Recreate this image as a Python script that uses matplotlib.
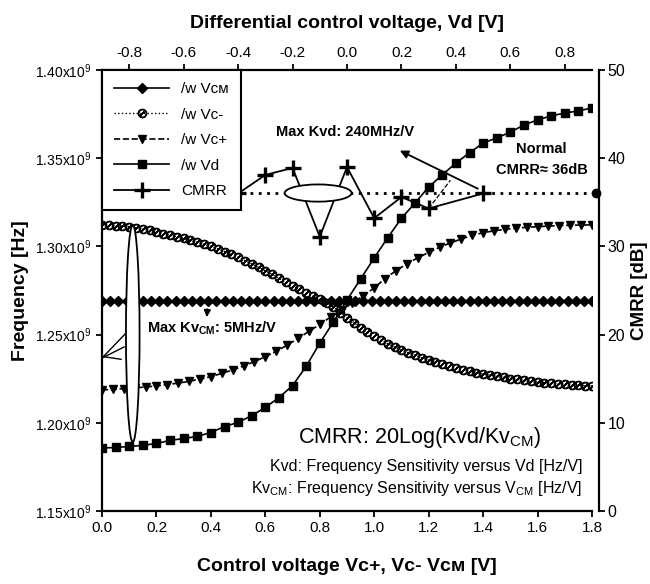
import numpy as np
import matplotlib
matplotlib.use("Agg")
import matplotlib.pyplot as plt
from matplotlib.patches import Ellipse
from matplotlib.ticker import FuncFormatter, MultipleLocator

# fuente angosta tipo Arial Narrow (si no existe, Liberation Sans)
FONT = ['Liberation Sans Narrow', 'Liberation Sans', 'DejaVu Sans']
plt.rcParams['font.family'] = FONT
plt.rcParams['mathtext.fontset'] = 'custom'
plt.rcParams['mathtext.rm'] = 'Liberation Sans'
plt.rcParams['mathtext.bf'] = 'Liberation Sans:bold'

# ---- datos (frecuencia en GHz, CMRR en dB) ----
# w/ VCM, paso 0.03 V
vcm_f = [1.2688, 1.2688, 1.2689, 1.2689, 1.2689, 1.2689, 1.2690, 1.2690, 1.2690, 1.2690,
         1.2690, 1.2690, 1.2691, 1.2691, 1.2691, 1.2691, 1.2691, 1.2691, 1.2691, 1.2691,
         1.2691, 1.2692, 1.2692, 1.2692, 1.2692, 1.2692, 1.2692, 1.2692, 1.2692, 1.2692,
         1.2692, 1.2692, 1.2692, 1.2692, 1.2692, 1.2692, 1.2692, 1.2692, 1.2692, 1.2692,
         1.2692, 1.2692, 1.2692, 1.2692, 1.2692, 1.2693, 1.2693, 1.2693, 1.2693, 1.2693,
         1.2693, 1.2693, 1.2693, 1.2693, 1.2693, 1.2693, 1.2693, 1.2693, 1.2693, 1.2693,
         1.2693]
# w/ Vc-, paso 0.025 V
vcn_f = [1.3121, 1.3120, 1.3118, 1.3115, 1.3112, 1.3106, 1.3099, 1.3091, 1.3082, 1.3073,
         1.3064, 1.3055, 1.3045, 1.3034, 1.3023, 1.3012, 1.3000, 1.2986, 1.2971, 1.2955,
         1.2938, 1.2919, 1.2901, 1.2882, 1.2862, 1.2841, 1.2819, 1.2797, 1.2775, 1.2756,
         1.2737, 1.2718, 1.2700, 1.2680, 1.2655, 1.2625, 1.2596, 1.2568, 1.2540, 1.2514,
         1.2490, 1.2468, 1.2448, 1.2430, 1.2413, 1.2397, 1.2382, 1.2368, 1.2355, 1.2343,
         1.2332, 1.2321, 1.2311, 1.2302, 1.2293, 1.2285, 1.2277, 1.2270, 1.2263, 1.2257,
         1.2251, 1.2246, 1.2241, 1.2236, 1.2232, 1.2228, 1.2224, 1.2221, 1.2218, 1.2215,
         1.2212, 1.2210, 1.2208]
# w/ Vc+, paso 0.04 V
vcp_f = [1.2186, 1.2190, 1.2194, 1.2198, 1.2203, 1.2209, 1.2217, 1.2225, 1.2235, 1.2248,
         1.2262, 1.2280, 1.2300, 1.2322, 1.2347, 1.2375, 1.2405, 1.2440, 1.2478, 1.2518,
         1.2558, 1.2600, 1.2640, 1.2680, 1.2720, 1.2765, 1.2818, 1.2862, 1.2902, 1.2935,
         1.2966, 1.2995, 1.3020, 1.3042, 1.3062, 1.3078, 1.3088, 1.3097, 1.3103, 1.3108,
         1.3112, 1.3115, 1.3118, 1.3120, 1.3121, 1.3122]
# w/ Vd, paso 0.05 V
vd_f = [1.1857, 1.1860, 1.1866, 1.1872, 1.1883, 1.1900, 1.1911, 1.1923, 1.1945, 1.1979,
        1.2002, 1.2041, 1.2087, 1.2143, 1.2211, 1.2320, 1.2452, 1.2571, 1.2696, 1.2815,
        1.2935, 1.3050, 1.3160, 1.3246, 1.3337, 1.3405, 1.3473, 1.3530, 1.3586, 1.3615,
        1.3648, 1.3688, 1.3717, 1.3740, 1.3756, 1.3768, 1.3785]
# CMRR
cmrr_x = [0.5, 0.6, 0.7, 0.8, 0.9, 1.0, 1.1, 1.2, 1.4]
cmrr_db = [36.0, 38.1, 38.9, 31.1, 39.0, 33.2, 35.6, 34.3, 36.0]
normal_x = [0.45, 1.8]
normal_db = [36.0, 36.0]

vcm_x = np.linspace(0, 1.8, len(vcm_f))
vcn_x = np.linspace(0, 1.8, len(vcn_f))
vcp_x = np.linspace(0, 1.8, len(vcp_f))
vd_x = np.linspace(0, 1.8, len(vd_f))

fig = plt.figure(figsize=(6.5, 5.84), dpi=100)
ax = fig.add_axes([102/650, 73/584, 490/650, 441/584])
axt = ax.twiny()
ax2 = ax.twinx()

lw = 1.6
l1, = ax.plot(vcm_x, vcm_f, '-', color='k', marker='D', ms=5, lw=1.2, label='/w Vᴄᴍ')
l2, = ax.plot(vcn_x, vcn_f, ':', color='k', marker=r'$\oslash$', ms=6, lw=1, label='/w Vc-')
l3, = ax.plot(vcp_x, vcp_f, '--', color='k', marker='v', ms=6, lw=1.2, label='/w Vc+')
l4, = ax.plot(vd_x, vd_f, '-', color='k', marker='s', ms=5.5, lw=1.2, label='/w Vd')

ax2.plot(normal_x, normal_db, color='k', ls=(0, (1, 2)), lw=2)
ax2.plot([1.815], [36.0], 'o', color='k', ms=6, clip_on=False)
l5, = ax2.plot(cmrr_x, cmrr_db, '-', color='k', marker='+', ms=11, mew=2.4, lw=1.3, label='CMRR')

# elipses
ax.add_patch(Ellipse((0.113, 1.2506), 0.05, 0.123, facecolor='white', edgecolor='k', lw=1.3, zorder=4))
ax2.add_patch(Ellipse((0.794, 36.05), 0.246, 1.95, facecolor='white', edgecolor='k', lw=1.3, zorder=4))

# flechas y lineas de referencia
ax2.annotate('', xy=(1.085, 41.0), xytext=(1.39, 36.4),
             arrowprops=dict(arrowstyle='-|>', color='k', lw=1.3, mutation_scale=12))
ax2.plot([1.2, 1.28], [34.3, 37.5], color='k', lw=0.9, ls='--')
ax.annotate('', xy=(0.384, 1.2583), xytext=(0.388, 1.2660),
            arrowprops=dict(arrowstyle='-|>', color='k', lw=1.2, mutation_scale=10))
ax.plot([0.092, 0.0], [1.2515, 1.2367], color='k', lw=1)
ax.plot([0.081, 0.0], [1.2430, 1.2367], color='k', lw=1)
ax.plot([0.070, 0.005], [1.2360, 1.2375], color='k', lw=1)

# ejes
ax.set_xlim(0, 1.8)
ax.set_ylim(1.15, 1.40)
ax2.set_ylim(0, 50)
axt.set_xlim(-0.9, 0.9)
ax.xaxis.set_major_locator(MultipleLocator(0.2))
axt.xaxis.set_major_locator(MultipleLocator(0.2))
ax.yaxis.set_major_locator(MultipleLocator(0.05))
ax2.yaxis.set_major_locator(MultipleLocator(10))
ax.xaxis.set_major_formatter(FuncFormatter(lambda v, p: f"{v:.1f}"))
axt.xaxis.set_major_formatter(FuncFormatter(lambda v, p: f"{v:.1f}"))
ax.yaxis.set_major_formatter(FuncFormatter(lambda v, p: f"{v:.2f}x10$^9$"))

for a in (ax, axt, ax2):
    for s in a.spines.values():
        s.set_visible(False)
        s.set_linewidth(lw)
ax.spines['left'].set_visible(True)
ax.spines['bottom'].set_visible(True)
axt.spines['top'].set_visible(True)
ax2.spines['right'].set_visible(True)
ax2.spines['right'].set_position(('outward', 5))

ax.tick_params(axis='both', direction='out', length=4, width=1.3, labelsize=11)
axt.tick_params(axis='x', direction='out', length=4, width=1.3, labelsize=11)
ax2.tick_params(axis='y', direction='out', length=4, width=1.3, labelsize=11.5, pad=2)
ax.tick_params(axis='y', labelsize=10)

ax.set_xlabel('Control voltage Vc+, Vc- Vᴄᴍ [V]', fontsize=14, fontweight='bold', labelpad=16)
axt.set_xlabel('Differential control voltage, Vd [V]', fontsize=14, fontweight='bold', labelpad=13)
ax.set_ylabel('Frequency [Hz]', fontsize=14, fontweight='bold', labelpad=4)
ax2.set_ylabel('CMRR [dB]', fontsize=13.5, fontweight='bold', labelpad=4)

# textos
def ftxt(x, y, s, **kw):
    fig.text(x/650, 1 - y/584, s, **kw)

ftxt(345, 132, 'Max Kvd: 240MHz/V', ha='center', va='center', fontsize=10.5, fontweight='bold')
ftxt(541, 149, 'Normal', ha='center', va='center', fontsize=10.5, fontweight='bold')
ftxt(542, 170, 'CMRR≈ 36dB', ha='center', va='center', fontsize=10.5, fontweight='bold')
ftxt(212, 328, r'Max Kv$_{\mathbf{CM}}$: 5MHz/V', ha='center', va='center', fontsize=10.5, fontweight='bold')
ftxt(420, 438, r'CMRR: 20Log(Kvd/Kv$_{\mathrm{CM}}$)', ha='center', va='center', fontsize=15.5)
ftxt(582, 467, 'Kvd: Frequency Sensitivity versus Vd [Hz/V]', ha='right', va='center', fontsize=11.5)
ftxt(582, 488, r'Kv$_{\mathrm{CM}}$: Frequency Sensitivity versus V$_{\mathrm{CM}}$ [Hz/V]',
     ha='right', va='center', fontsize=11.5)

leg = ax2.legend(handles=[l1, l2, l3, l4, l5], loc='upper left', bbox_to_anchor=(0, 1),
                 borderaxespad=0, fancybox=False, framealpha=1, edgecolor='k',
                 fontsize=11, handlelength=3.6, labelspacing=0.75, borderpad=0.8)
leg.get_frame().set_linewidth(1.5)

fig.savefig('out.png', dpi=100)
